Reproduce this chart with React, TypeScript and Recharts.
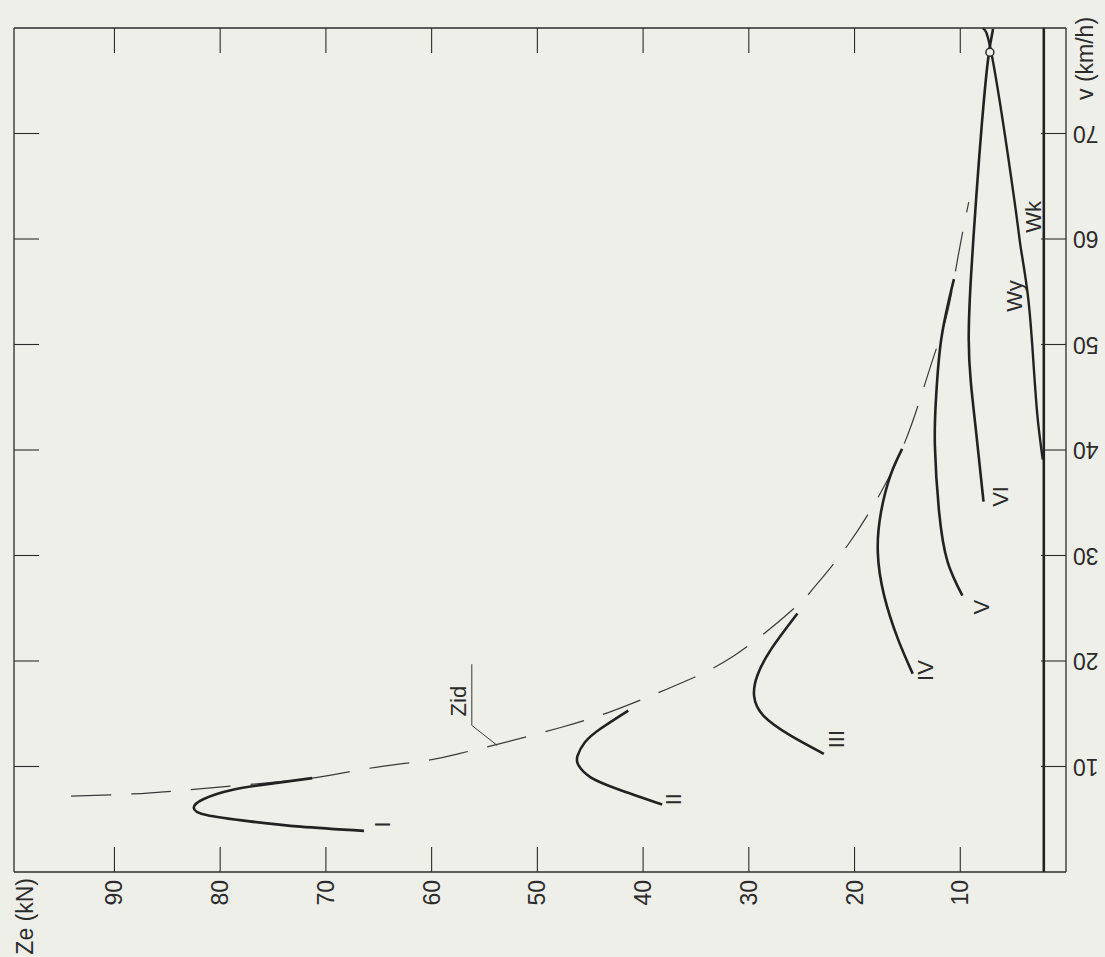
import { ComposedChart, Line, Scatter, XAxis, YAxis, ReferenceLine, ReferenceDot } from "recharts";

const INK = "#2b2b2b";
const BG = "#efefe9";
const FONT = "'Liberation Sans', Arial, sans-serif";

const ZE_TICKS = [10, 20, 30, 40, 50, 60, 70, 80, 90];
const V_TICKS = [10, 20, 30, 40, 50, 60, 70];

// traction curves per gear (Ze in kN, v in km/h), ordered by speed
const gearI = [
  { ze: 66.4, v: 3.9 }, { ze: 72.4, v: 4.3 }, { ze: 77.2, v: 4.8 }, { ze: 81.3, v: 5.4 },
  { ze: 82.5, v: 6.1 }, { ze: 81.6, v: 6.9 }, { ze: 78.8, v: 7.8 },
  { ze: 75.0, v: 8.4 }, { ze: 71.3, v: 8.9 },
];
const gearII = [
  { ze: 38.2, v: 6.4 }, { ze: 42.5, v: 7.9 }, { ze: 45.0, v: 9.0 }, { ze: 46.1, v: 10.1 },
  { ze: 46.2, v: 11.0 }, { ze: 45.5, v: 12.3 }, { ze: 44.0, v: 13.6 }, { ze: 41.4, v: 15.3 },
];
const gearIII = [
  { ze: 22.9, v: 11.2 }, { ze: 26.0, v: 12.9 }, { ze: 28.6, v: 14.8 }, { ze: 29.5, v: 16.7 },
  { ze: 29.2, v: 18.6 }, { ze: 27.9, v: 21.1 }, { ze: 25.4, v: 24.5 },
];
const gearIV = [
  { ze: 14.5, v: 18.8 }, { ze: 15.9, v: 22.1 }, { ze: 17.2, v: 26.2 }, { ze: 17.8, v: 30.3 },
  { ze: 17.5, v: 34.1 }, { ze: 16.6, v: 37.6 }, { ze: 15.5, v: 40.1 },
];
const gearV = [
  { ze: 9.8, v: 26.2 }, { ze: 11.2, v: 29.4 }, { ze: 12.0, v: 34.1 }, { ze: 12.4, v: 40.4 },
  { ze: 12.3, v: 44.8 }, { ze: 11.8, v: 50.5 }, { ze: 10.6, v: 56.2 },
];
const gearVI = [
  { ze: 7.8, v: 35.1 }, { ze: 8.5, v: 41.7 }, { ze: 9.0, v: 46.4 }, { ze: 9.2, v: 50.5 },
  { ze: 9.0, v: 56.2 }, { ze: 8.5, v: 63.8 }, { ze: 8.0, v: 70.4 }, { ze: 7.4, v: 76.8 },
  { ze: 6.9, v: 79.9 },
];
// running resistance
const resistance = [
  { ze: 2.2, v: 39.1 }, { ze: 2.7, v: 43.2 }, { ze: 3.1, v: 48.6 }, { ze: 3.6, v: 54.6 },
  { ze: 4.3, v: 59.3 }, { ze: 4.9, v: 63.8 }, { ze: 6.9, v: 76.8 }, { ze: 7.9, v: 79.9 },
];
// ideal traction hyperbola (dashed)
const zid = [
  { ze: 94.1, v: 7.2 }, { ze: 88.3, v: 7.4 }, { ze: 84.1, v: 7.7 }, { ze: 78.4, v: 8.2 },
  { ze: 71.3, v: 8.9 }, { ze: 66.1, v: 9.8 }, { ze: 60.3, v: 10.6 }, { ze: 57.5, v: 11.2 },
  { ze: 53.8, v: 12.1 }, { ze: 47.8, v: 13.7 }, { ze: 42.8, v: 15.3 }, { ze: 37.6, v: 17.4 },
  { ze: 31.4, v: 20.5 }, { ze: 25.6, v: 25.1 }, { ze: 23.8, v: 27.0 }, { ze: 20.7, v: 30.9 },
  { ze: 17.5, v: 36.0 }, { ze: 15.5, v: 40.1 }, { ze: 14.0, v: 44.2 }, { ze: 12.5, v: 48.9 },
  { ze: 11.2, v: 53.1 }, { ze: 10.2, v: 58.4 }, { ze: 9.2, v: 63.5 },
];
const zidLeader = [
  { ze: 56.2, v: 19.7 }, { ze: 56.2, v: 13.9 }, { ze: 53.8, v: 12.0 },
];
const curveLabels = [
  { ze: 64.6, v: 4.5, t: "I" },
  { ze: 37.1, v: 6.9, t: "II" },
  { ze: 21.7, v: 12.6, t: "III" },
  { ze: 13.3, v: 19.1, t: "IV" },
  { ze: 8.0, v: 25.1, t: "V" },
  { ze: 6.2, v: 35.6, t: "VI" },
  { ze: 3.1, v: 62.1, t: "Wk" },
  { ze: 4.9, v: 54.6, t: "Wy" },
  { ze: 57.5, v: 16.2, t: "Zid" },
];

const TICK_LEN = 25;

function BottomTick({ x, y, payload }: any) {
  return (
    <g>
      <line x1={x} y1={y} x2={x} y2={y - TICK_LEN} stroke={INK} strokeWidth={1.1} />
      <text x={x} y={y + 8} transform={`rotate(-90 ${x} ${y + 8})`} textAnchor="end"
        dominantBaseline="central" fontFamily={FONT} fontSize={23} fill={INK}>
        {payload.value}
      </text>
    </g>
  );
}

function TopTick({ x, y }: any) {
  return <line x1={x} y1={y} x2={x} y2={y + TICK_LEN} stroke={INK} strokeWidth={1.1} />;
}

function LeftTick({ x, y }: any) {
  return <line x1={x} y1={y} x2={x + TICK_LEN} y2={y} stroke={INK} strokeWidth={1.1} />;
}

function RightTick({ x, y, payload }: any) {
  return (
    <g>
      <line x1={x} y1={y} x2={x - TICK_LEN} y2={y} stroke={INK} strokeWidth={1.1} />
      <text x={x + 7} y={y} transform={`rotate(180 ${x + 7} ${y})`} textAnchor="end"
        dominantBaseline="central" fontFamily={FONT} fontSize={23} fill={INK}>
        {payload.value}
      </text>
    </g>
  );
}

function CurveLabel({ cx, cy, payload }: any) {
  return (
    <text x={cx} y={cy} transform={`rotate(-90 ${cx} ${cy})`} textAnchor="middle"
      dominantBaseline="central" fontFamily={FONT} fontSize={22} fill={INK}>
      {payload.t}
    </text>
  );
}

const gearStyle = { stroke: "#222", strokeWidth: 2.6 };

export default function App() {
  return (
    <div style={{ position: "absolute", left: 0, top: 0, width: 1105, height: 957, background: BG }}>
      <ComposedChart width={1105} height={957} margin={{ top: 0, right: 0, bottom: 0, left: 0 }}>
        <XAxis xAxisId="b" dataKey="ze" type="number" domain={[0, 99.5]} reversed allowDataOverflow
          ticks={ZE_TICKS} interval={0} height={85} tickSize={0} tickMargin={0} tickLine={false}
          axisLine={{ stroke: INK, strokeWidth: 1.3 }} tick={<BottomTick />}
          label={{
            content: ({ viewBox }: any) => (
              <text x={viewBox.x + 11} y={viewBox.y + 6} transform={`rotate(-90 ${viewBox.x + 11} ${viewBox.y + 6})`}
                textAnchor="end" dominantBaseline="central" fontFamily={FONT} fontSize={23} fill={INK}>
                Ze (kN)
              </text>
            ),
          }} />
        <XAxis xAxisId="t" orientation="top" dataKey="ze" type="number" domain={[0, 99.5]} reversed allowDataOverflow
          ticks={ZE_TICKS} interval={0} height={28} tickSize={0} tickMargin={0} tickLine={false}
          axisLine={{ stroke: INK, strokeWidth: 1.3 }} tick={<TopTick />} />
        <YAxis yAxisId="l" dataKey="v" type="number" domain={[0, 80]} allowDataOverflow
          ticks={V_TICKS} interval={0} width={14} tickSize={0} tickMargin={0} tickLine={false}
          axisLine={{ stroke: INK, strokeWidth: 1.3 }} tick={<LeftTick />} />
        <YAxis yAxisId="r" orientation="right" dataKey="v" type="number" domain={[0, 80]} allowDataOverflow
          ticks={V_TICKS} interval={0} width={39} tickSize={0} tickMargin={0} tickLine={false}
          axisLine={{ stroke: INK, strokeWidth: 1.3 }} tick={<RightTick />}
          label={{
            content: ({ viewBox }: any) => (
              <text x={viewBox.x + 19} y={viewBox.y + 72} transform={`rotate(-90 ${viewBox.x + 19} ${viewBox.y + 72})`}
                textAnchor="start" dominantBaseline="central" fontFamily={FONT} fontSize={23} fill={INK}>
                v (km/h)
              </text>
            ),
          }} />

        <ReferenceLine xAxisId="b" yAxisId="l" x={2.1} stroke="#222" strokeWidth={2.6} />

        <Line xAxisId="b" yAxisId="l" data={zid} dataKey="v" type="natural" stroke="#3a3a3a"
          strokeWidth={1.2} strokeDasharray="40 20" dot={false} activeDot={false} isAnimationActive={false} />
        <Line xAxisId="b" yAxisId="l" data={zidLeader} dataKey="v" type="linear" stroke="#3a3a3a"
          strokeWidth={1} dot={false} activeDot={false} isAnimationActive={false} />
        <Line xAxisId="b" yAxisId="l" data={gearI} dataKey="v" type="natural" {...gearStyle}
          dot={false} activeDot={false} isAnimationActive={false} />
        <Line xAxisId="b" yAxisId="l" data={gearII} dataKey="v" type="natural" {...gearStyle}
          dot={false} activeDot={false} isAnimationActive={false} />
        <Line xAxisId="b" yAxisId="l" data={gearIII} dataKey="v" type="natural" {...gearStyle}
          dot={false} activeDot={false} isAnimationActive={false} />
        <Line xAxisId="b" yAxisId="l" data={gearIV} dataKey="v" type="natural" {...gearStyle}
          dot={false} activeDot={false} isAnimationActive={false} />
        <Line xAxisId="b" yAxisId="l" data={gearV} dataKey="v" type="natural" {...gearStyle}
          dot={false} activeDot={false} isAnimationActive={false} />
        <Line xAxisId="b" yAxisId="l" data={gearVI} dataKey="v" type="natural" {...gearStyle}
          dot={false} activeDot={false} isAnimationActive={false} />
        <Line xAxisId="b" yAxisId="l" data={resistance} dataKey="v" type="natural" stroke="#222"
          strokeWidth={2.4} dot={false} activeDot={false} isAnimationActive={false} />

        <ReferenceDot xAxisId="b" yAxisId="l" x={7.2} y={77.7} r={4} fill={BG} stroke={INK} strokeWidth={1.5} />

        <Scatter xAxisId="b" yAxisId="l" data={curveLabels} dataKey="v" shape={<CurveLabel />}
          isAnimationActive={false} />
      </ComposedChart>
    </div>
  );
}
